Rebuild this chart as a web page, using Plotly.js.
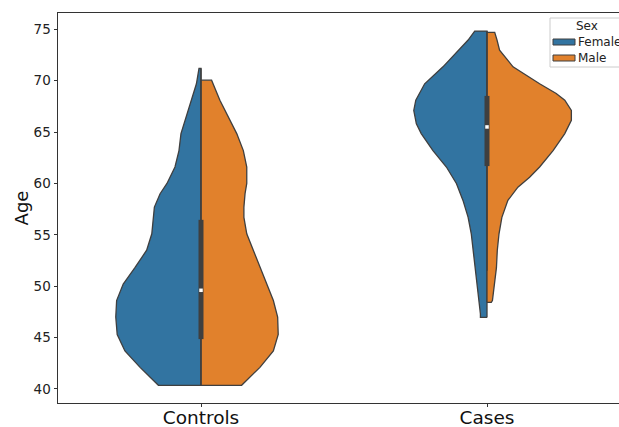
<!DOCTYPE html>
<html>
<head>
<meta charset="utf-8">
<script src="https://cdn.plot.ly/plotly-3.0.1.min.js"></script>
<style>
html,body{margin:0;padding:0;overflow:hidden;background:#fff;}
#chart{width:660px;height:427px;}
</style>
</head>
<body>
<div id="chart"></div>
<script>
// Categories and groups
var categories = ["Controls", "Cases"];
var sexes = ["Female", "Male"];
var sexColors = ["#3274a1", "#e1812c"];
var legendTitle = "Sex";
var yTickValues = [40, 45, 50, 55, 60, 65, 70, 75];

// Violin density profiles: age levels and half-widths (category units)
var controlsFemaleAge   = [40.35, 42.1, 43.7, 45.3, 47.0, 48.6, 50.2, 51.8, 53.5, 55.1, 56.7, 57.7, 59.0, 60.0, 61.6, 63.2, 64.85, 66.5, 68.1, 69.7, 71.2];
var controlsFemaleWidth = [0.149, 0.213, 0.266, 0.293, 0.298, 0.295, 0.272, 0.231, 0.190, 0.172, 0.167, 0.163, 0.143, 0.119, 0.091, 0.077, 0.070, 0.052, 0.033, 0.016, 0.007];

var controlsMaleAge   = [40.35, 42.1, 43.7, 45.3, 47.0, 48.6, 50.2, 51.8, 53.5, 55.1, 56.7, 57.7, 59.0, 60.0, 61.6, 63.2, 64.85, 66.5, 68.1, 70.05];
var controlsMaleWidth = [0.142, 0.206, 0.253, 0.270, 0.268, 0.253, 0.230, 0.206, 0.181, 0.160, 0.150, 0.150, 0.154, 0.160, 0.160, 0.148, 0.125, 0.095, 0.066, 0.037];

var casesFemaleAge   = [46.96, 47.3, 48.6, 50.2, 51.8, 53.5, 55.1, 56.7, 58.35, 60.0, 61.6, 63.2, 64.85, 65.8, 67.1, 68.1, 69.7, 71.35, 72.98, 73.96, 74.83];
var casesFemaleWidth = [0.023, 0.023, 0.028, 0.034, 0.040, 0.047, 0.055, 0.066, 0.084, 0.107, 0.142, 0.189, 0.230, 0.247, 0.256, 0.249, 0.218, 0.154, 0.098, 0.066, 0.043];

var casesMaleAge   = [48.43, 48.6, 50.2, 51.8, 53.5, 55.1, 56.7, 58.35, 59.64, 60.6, 61.6, 63.2, 64.85, 66.15, 67.1, 68.1, 68.75, 69.7, 71.35, 72.98, 73.96, 74.7];
var casesMaleWidth = [0.015, 0.019, 0.027, 0.033, 0.036, 0.042, 0.052, 0.073, 0.108, 0.149, 0.184, 0.231, 0.272, 0.295, 0.295, 0.272, 0.242, 0.184, 0.091, 0.044, 0.035, 0.027];

// Inner box statistics per category (Controls, Cases)
var q1Values      = [44.85, 61.69];
var q3Values      = [56.46, 68.52];
var medianValues  = [49.6, 65.5];
var whiskerLow    = [40.35, 51.5];
var whiskerHigh   = [71.2, 74.83];

var edgeColor = "#3f3f3f";

function halfViolin(catIndex, ages, widths, side, sexIndex) {
  var xs = [], ys = [];
  xs.push(catIndex); ys.push(ages[0]);
  for (var i = 0; i < ages.length; i++) {
    xs.push(catIndex + side * widths[i]);
    ys.push(ages[i]);
  }
  xs.push(catIndex); ys.push(ages[ages.length - 1]);
  xs.push(catIndex); ys.push(ages[0]);
  return {
    type: "scatter", mode: "lines", x: xs, y: ys,
    fill: "toself", fillcolor: sexColors[sexIndex],
    line: {color: edgeColor, width: 1.3},
    name: sexes[sexIndex], showlegend: false, hoverinfo: "skip"
  };
}

var traces = [
  halfViolin(0, controlsFemaleAge, controlsFemaleWidth, -1, 0),
  halfViolin(0, controlsMaleAge, controlsMaleWidth, 1, 1),
  halfViolin(1, casesFemaleAge, casesFemaleWidth, -1, 0),
  halfViolin(1, casesMaleAge, casesMaleWidth, 1, 1)
];

for (var c = 0; c < categories.length; c++) {
  traces.push({type: "scatter", mode: "lines", x: [c, c], y: [whiskerLow[c], whiskerHigh[c]],
    line: {color: edgeColor, width: 1.3}, showlegend: false, hoverinfo: "skip"});
  traces.push({type: "scatter", mode: "lines", x: [c, c], y: [q1Values[c], q3Values[c]],
    line: {color: edgeColor, width: 5}, showlegend: false, hoverinfo: "skip"});
  traces.push({type: "scatter", mode: "markers", x: [c], y: [medianValues[c]],
    marker: {color: "#ffffff", size: 3.5, symbol: "square"}, showlegend: false, hoverinfo: "skip"});
}

// Legend drawn as a box in paper coordinates (plot area: 572 x 390 px, origin at 58,403)
var plotLeft = 58, plotBottom = 403, plotW = 572, plotH = 390;
function px(xPix) { return (xPix - plotLeft) / plotW; }
function py(yPix) { return (plotBottom - yPix) / plotH; }

var shapes = [
  {type: "rect", xref: "paper", yref: "paper", x0: px(550), x1: px(650), y0: py(67), y1: py(18),
   fillcolor: "#ffffff", line: {color: "#cccccc", width: 1}, layer: "above"}
];
var annotations = [
  {xref: "paper", yref: "paper", x: px(587), y: py(26), text: legendTitle, showarrow: false,
   xanchor: "center", yanchor: "middle", font: {size: 12, color: "#222"}}
];
var rowY = [42, 58];
for (var s = 0; s < sexes.length; s++) {
  shapes.push({type: "rect", xref: "paper", yref: "paper", x0: px(553), x1: px(575),
    y0: py(rowY[s] + 3), y1: py(rowY[s] - 3),
    fillcolor: sexColors[s], line: {color: edgeColor, width: 1}, layer: "above"});
  annotations.push({xref: "paper", yref: "paper", x: px(576), y: py(rowY[s]), text: sexes[s],
    showarrow: false, xanchor: "left", yanchor: "middle", font: {size: 12, color: "#222"}});
}

var layout = {
  width: 660, height: 427,
  margin: {l: 58, r: 30, t: 13, b: 24},
  paper_bgcolor: "#ffffff", plot_bgcolor: "#ffffff",
  font: {family: "DejaVu Sans, sans-serif", color: "#222"},
  showlegend: false,
  xaxis: {
    range: [-0.5, 1.5], tickvals: [0, 1], ticktext: categories,
    showgrid: false, zeroline: false, showline: true, mirror: true,
    linecolor: "#333", linewidth: 1, ticks: "outside", ticklen: 3, tickcolor: "#333",
    ticklabelstandoff: -5,
    tickfont: {size: 18.5, color: "#111"}, fixedrange: true
  },
  yaxis: {
    range: [38.63, 76.59], tickvals: yTickValues,
    showgrid: false, zeroline: false, showline: true, mirror: true,
    linecolor: "#333", linewidth: 1, ticks: "outside", ticklen: 3.5, tickcolor: "#333",
    tickfont: {size: 13.5, color: "#222"},
    title: {text: "Age", font: {size: 18, color: "#111"}, standoff: 0}
  },
  shapes: shapes,
  annotations: annotations
};

Plotly.newPlot("chart", traces, layout, {staticPlot: true, displayModeBar: false});
</script>
</body>
</html>
